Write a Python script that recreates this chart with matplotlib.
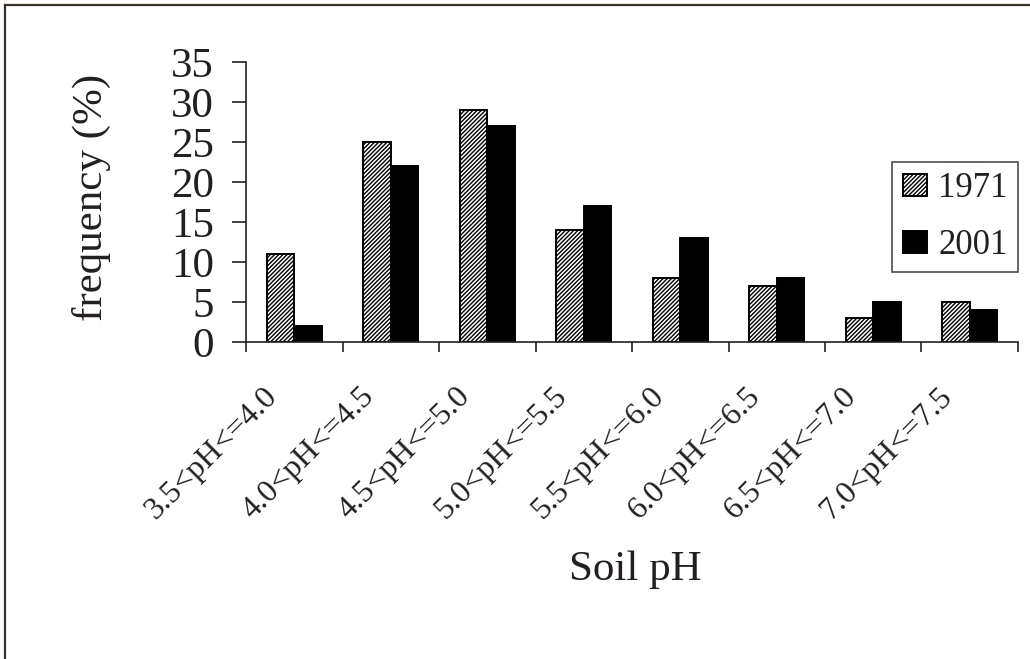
import numpy as np
import matplotlib.pyplot as plt
import matplotlib.transforms as mtransforms
from matplotlib.lines import Line2D

categories = ['3.5<pH<=4.0', '4.0<pH<=4.5', '4.5<pH<=5.0', '5.0<pH<=5.5',
              '5.5<pH<=6.0', '6.0<pH<=6.5', '6.5<pH<=7.0', '7.0<pH<=7.5']
freq_1971 = [11, 25, 29, 14, 8, 7, 3, 5]
freq_2001 = [2, 22, 27, 17, 13, 8, 5, 4]
yticks = [0, 5, 10, 15, 20, 25, 30, 35]

plt.rcParams['font.family'] = ['Liberation Serif', 'DejaVu Serif']
plt.rcParams['hatch.linewidth'] = 1.0
plt.rcParams['hatch.color'] = '#222222'
txt = '#231f20'

fig = plt.figure(figsize=(10.3, 6.59), dpi=100)
ax = fig.add_axes([246 / 1030, 1 - 342 / 659, 772 / 1030, 280 / 659])

x = np.arange(len(categories))
w = 0.285
ax.bar(x - w / 2, freq_1971, w, color='white', edgecolor='black',
       hatch='////////', linewidth=1.4, label='1971')
ax.bar(x + w / 2, freq_2001, w, color='black', edgecolor='black',
       linewidth=1.4, label='2001')

ax.set_xlim(-0.5, len(categories) - 0.5)
ax.set_ylim(0, 35)
ax.set_yticks(yticks)
ax.set_yticklabels([str(v) for v in yticks], fontsize=31, color=txt)
ax.tick_params(axis='y', direction='out', length=10, width=1.2, pad=13, color=txt)

# boundary ticks without labels, category labels at centres
ax.set_xticks(np.arange(len(categories) + 1) - 0.5)
ax.set_xticklabels([''] * (len(categories) + 1))
ax.tick_params(axis='x', which='major', direction='out', length=7.5, width=1.2, color=txt)
ax.set_xticks(x, minor=True)
ax.set_xticklabels(categories, minor=True, rotation=45, ha='right', va='center',
                   rotation_mode='anchor', fontsize=23, color=txt)
ax.tick_params(axis='x', which='minor', length=0, pad=36)
shift = mtransforms.ScaledTranslation(-0.21, 0, fig.dpi_scale_trans)
for lab in ax.get_xticklabels(minor=True):
    lab.set_transform(lab.get_transform() + shift)

for s in ['top', 'right']:
    ax.spines[s].set_visible(False)
for s in ['left', 'bottom']:
    ax.spines[s].set_color(txt)
    ax.spines[s].set_linewidth(1.2)

ax.set_ylabel('frequency (%)', fontsize=31, color=txt)
ax.yaxis.set_label_coords(-0.175, 0.518)
ax.set_xlabel('Soil pH', fontsize=31, color=txt)
ax.xaxis.set_label_coords(0.504, -0.746)

leg = ax.legend(loc='upper right', bbox_to_anchor=(1018 / 1030, 1 - 162 / 659),
                bbox_transform=fig.transFigure, fontsize=25, frameon=True,
                fancybox=False, borderpad=0.3, handlelength=0.7, handleheight=0.62,
                handletextpad=0.32, labelspacing=0.68, borderaxespad=0)
leg.get_frame().set_edgecolor(txt)
leg.get_frame().set_linewidth(1.2)
for t in leg.get_texts():
    t.set_color(txt)

# frame lines at top and left of the picture
fig.lines.append(Line2D([5 / 1030, 1], [1 - 5 / 659, 1 - 5 / 659], transform=fig.transFigure,
                        color='#3a3228', linewidth=1.6))
fig.lines.append(Line2D([5 / 1030, 5 / 1030], [0, 1 - 5 / 659], transform=fig.transFigure,
                        color='#3a3228', linewidth=1.6))

fig.savefig('out.png', dpi=100)
